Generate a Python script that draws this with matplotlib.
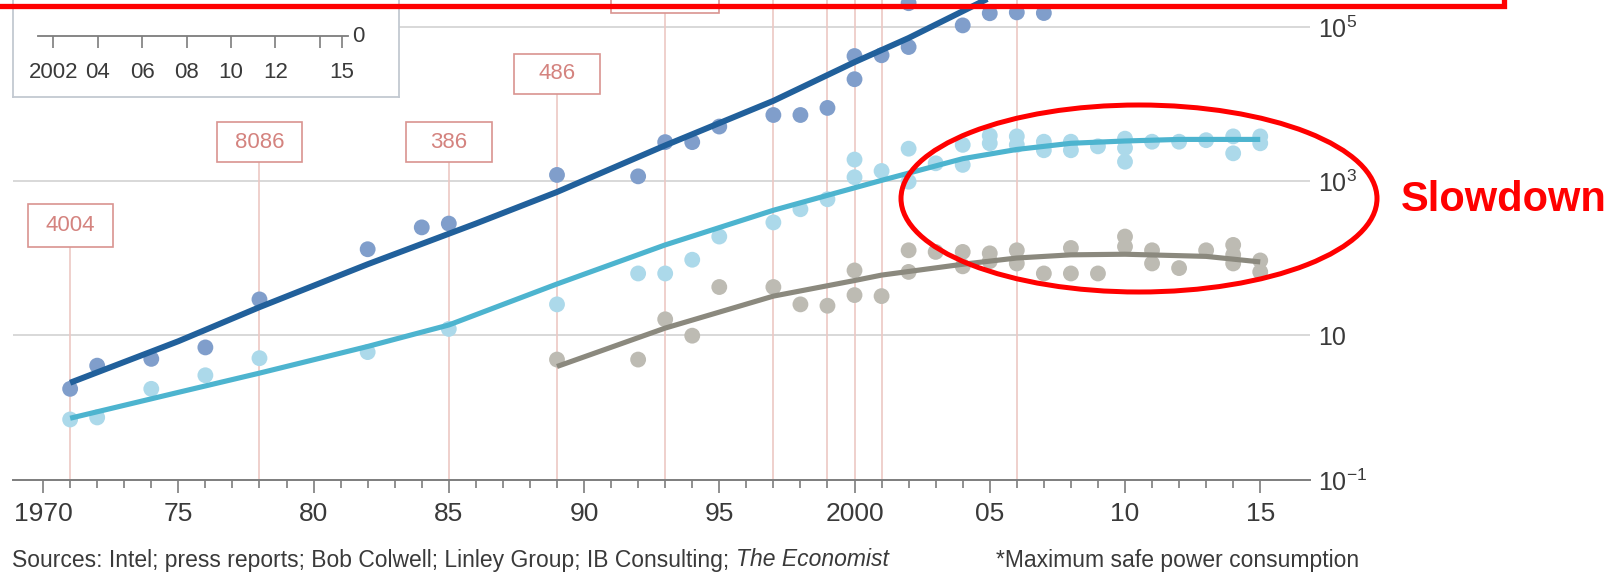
import matplotlib
matplotlib.use('Agg')
import matplotlib.pyplot as plt
import matplotlib.patches as mpatches
import matplotlib.ticker as mticker

# --- data --------------------------------------------------------------
# transistors, thousands (dark blue)
trans_years = [1971, 1972, 1974, 1976, 1978, 1982, 1984, 1985, 1989, 1992,
               1993, 1994, 1995, 1997, 1998, 1999, 2000, 2000, 2001, 2002,
               2002, 2004, 2005, 2006, 2007]
trans_vals = [2.0, 4.0, 4.9, 6.9, 29, 130, 250, 280, 1200, 1150,
              3200, 3200, 5100, 7200, 7200, 8900, 42000, 21000, 43000, 55000,
              204000, 105000, 151000, 155000, 152000]
trans_fit_years = [1971, 1975, 1978, 1982, 1986, 1989, 1993, 1997, 2000, 2002, 2005, 2007]
trans_fit_vals = [2.4, 8.3, 23, 83, 280, 720, 2900, 11000, 35000, 72000, 240000, 480000]

# clock speed, MHz (light blue)
clock_years = [1971, 1972, 1974, 1976, 1978, 1982, 1985, 1989, 1992, 1993,
               1994, 1995, 1997, 1998, 1999, 2000, 2000, 2001, 2002, 2002,
               2003, 2004, 2004, 2005, 2005, 2006, 2006, 2007, 2007, 2008,
               2008, 2009, 2010, 2010, 2010, 2011, 2012, 2013, 2014, 2014,
               2015, 2015]
clock_vals = [0.8, 0.85, 2.0, 3.0, 5.0, 6.0, 12, 25, 63, 63,
              95, 190, 290, 430, 580, 1900, 1120, 1350, 2630, 980,
              1700, 2950, 1620, 3890, 3090, 3800, 2950, 3240, 2510, 3240,
              2510, 2820, 3550, 2690, 1780, 3240, 3240, 3390, 3800, 2290,
              3800, 3090]
clock_fit_years = [1971, 1975, 1978, 1982, 1985, 1989, 1993, 1997, 2001, 2004,
                   2006, 2008, 2010, 2012, 2015]
clock_fit_vals = [0.83, 1.8, 3.2, 7.1, 13.5, 46, 148, 417, 1020, 1950,
                  2570, 3090, 3310, 3470, 3470]

# power, watts (grey)
power_years = [1989, 1992, 1993, 1994, 1995, 1997, 1998, 1999, 2000, 2000,
               2001, 2002, 2002, 2003, 2004, 2004, 2005, 2005, 2006, 2006,
               2007, 2008, 2008, 2009, 2010, 2010, 2011, 2011, 2012, 2013,
               2014, 2014, 2014, 2015, 2015]
power_vals = [4.8, 4.8, 16, 9.8, 42, 42, 25, 24, 69, 33,
              32, 126, 66, 120, 120, 78, 115, 91, 126, 85,
              63, 135, 63, 63, 190, 141, 126, 85, 74, 126,
              148, 110, 85, 93, 66]
power_fit_years = [1989, 1993, 1997, 2000, 2001, 2004, 2006, 2008, 2010, 2013, 2015]
power_fit_vals = [3.9, 12.3, 32, 51, 60, 83, 100, 110, 112, 105, 89]

# chip launches
chip_names = ['4004', '8086', '386', '486', 'Pentium']
chip_years = [1971, 1978, 1985, 1989, 1993]
other_launch_years = [1997, 1999, 2000, 2001, 2006]

x_major = [1970, 1975, 1980, 1985, 1990, 1995, 2000, 2005, 2010, 2015]
x_major_labels = ['1970', '75', '80', '85', '90', '95', '2000', '05', '10', '15']
inset_ticks = [2002, 2004, 2006, 2008, 2010, 2012, 2014, 2015]
inset_labels = ['2002', '04', '06', '08', '10', '12', '', '15']

# --- style --------------------------------------------------------------
plt.rcParams['font.family'] = ['Liberation Sans', 'DejaVu Sans']
plt.rcParams['mathtext.fontset'] = 'custom'
plt.rcParams['mathtext.rm'] = 'Liberation Sans'
plt.rcParams['mathtext.it'] = 'Liberation Sans:italic'

DARK, DARK_DOT = '#21609b', '#809ecb'
LIGHT, LIGHT_DOT = '#4db4cf', '#acd9ea'
GREY, GREY_DOT = '#8b897e', '#bdbbb3'
PINK_LINE, BOX_EDGE, BOX_TEXT = '#ecc8c4', '#d99490', '#d4837f'
TXT = '#3a3a3a'

W, H = 1620, 572
fig = plt.figure(figsize=(W / 100, H / 100), dpi=100)


def fx(px):
    return px / W


def fy(px):
    return 1 - px / H


ax = fig.add_axes([fx(12.8), fy(480), fx(1310) - fx(12.8), 480 / H])
ax.set_yscale('log')
ybot = 10 ** -0.883
ytop = 10 ** 5.351
ax.set_ylim(ybot, ytop)
ax.set_xlim(1968.88, 2016.84)

for s in ['left', 'top', 'right']:
    ax.spines[s].set_visible(False)
ax.spines['bottom'].set_color('#7d7d7d')
ax.spines['bottom'].set_linewidth(1.4)

for v in [10, 1e3, 1e5]:
    ax.axhline(v, color='#d2d2d2', lw=1.2, zorder=0.5)

# launch markers: box bottom / top as log10 of the y value
box_lo = [2.145, 3.245, 3.245, 4.13, 5.18]
box_hi = [2.70, 3.768, 3.768, 4.653, 5.75]
box_hw = [1.57, 1.58, 1.58, 1.58, 2.0]
for name, yr, lo, hi, hw in zip(chip_names, chip_years, box_lo, box_hi, box_hw):
    ax.vlines(yr, ybot, 10 ** lo, color=PINK_LINE, lw=1.2, zorder=1)
    ax.add_patch(mpatches.Rectangle((yr - hw, 10 ** lo), 2 * hw, 10 ** hi - 10 ** lo,
                                    facecolor='white', edgecolor=BOX_EDGE, lw=1.2, zorder=2))
    if 10 ** hi < ytop:
        ax.text(yr, 10 ** ((lo + hi) / 2), name, ha='center', va='center', fontsize=16,
                color=BOX_TEXT, zorder=2.5)
for yr in other_launch_years:
    ax.vlines(yr, ybot, 10 ** 6, color=PINK_LINE, lw=1.2, zorder=1)

# dots and trend lines
ax.scatter(power_years, power_vals, s=130, color=GREY_DOT, edgecolors='none', zorder=3)
ax.scatter(clock_years, clock_vals, s=130, color=LIGHT_DOT, edgecolors='none', zorder=3)
ax.scatter(trans_years, trans_vals, s=130, color=DARK_DOT, edgecolors='none', zorder=3)
ax.plot(power_fit_years, power_fit_vals, color=GREY, lw=3.7, solid_capstyle='butt',
        solid_joinstyle='round', zorder=4)
ax.plot(clock_fit_years, clock_fit_vals, color=LIGHT, lw=3.7, solid_capstyle='butt',
        solid_joinstyle='round', zorder=4)
ax.plot(trans_fit_years, trans_fit_vals, color=DARK, lw=4.3, solid_capstyle='butt',
        solid_joinstyle='round', zorder=4)

# axes ticks
ax.set_xticks(x_major)
ax.set_xticklabels(x_major_labels)
ax.set_xticks(range(1970, 2016), minor=True)
ax.tick_params(axis='x', which='major', length=9, width=1.2, color='#7d7d7d',
               pad=7, labelsize=19, labelcolor=TXT)
ax.tick_params(axis='x', which='minor', length=6, width=1.2, color='#7d7d7d')
ax.yaxis.tick_right()
ax.set_yticks([ybot, 10, 1e3, 1e5])
ax.set_yticklabels(['$10^{-1}$', '10', '$10^{3}$', '$10^{5}$'])
ax.yaxis.set_minor_locator(mticker.NullLocator())
ax.tick_params(axis='y', length=0, pad=6, labelsize=18, labelcolor=TXT)

# inset legend box (top partly cropped)
inset = fig.add_axes([fx(12.7), fy(97), fx(399) - fx(12.7), 0.3])
inset.set_xticks([])
inset.set_yticks([])
inset.set_facecolor('white')
for s in inset.spines.values():
    s.set_color('#c3c9d1')
    s.set_linewidth(1.3)

mini = fig.add_axes([fx(38), fy(36), fx(348) - fx(38), 0.02])
mini.patch.set_visible(False)
for s in ['left', 'top', 'right']:
    mini.spines[s].set_visible(False)
mini.spines['bottom'].set_color('#7d7d7d')
mini.spines['bottom'].set_linewidth(1.3)
mini.set_xlim(2001.31, 2015.27)
mini.set_yticks([])
mini.set_xticks(inset_ticks)
mini.set_xticklabels(inset_labels)
mini.tick_params(axis='x', length=8.5, width=1.2, color='#7d7d7d', pad=10.5,
                 labelsize=16, labelcolor=TXT)
fig.text(fx(352), fy(36), '0', ha='left', va='center', fontsize=16, color=TXT)

# footer
src = fig.text(fx(12), fy(560), 'Sources: Intel; press reports; Bob Colwell; Linley Group; IB Consulting; ',
               ha='left', va='center', fontsize=16.5, color=TXT)
fig.canvas.draw()
bb = src.get_window_extent(fig.canvas.get_renderer())
fig.text(bb.x1 / W, fy(560), 'The Economist', ha='left', va='center', fontsize=16.5,
         color=TXT, style='italic')
fig.text(fx(996), fy(560), '*Maximum safe power consumption', ha='left', va='center',
         fontsize=16.5, color=TXT)

# red highlight overlay
fig.add_artist(mpatches.Rectangle((fx(-20), fy(5.5)), fx(1504 + 20), 0.2,
                                  transform=fig.transFigure, fill=False, ec='#ff0000',
                                  lw=3.8, clip_on=False, zorder=10))
fig.add_artist(mpatches.Ellipse((fx(1139), fy(198.5)), fx(476), 187 / H,
                                transform=fig.transFigure, fill=False, ec='#ff0000',
                                lw=3.6, zorder=10))
fig.text(fx(1401), fy(200), 'Slowdown', ha='left', va='center', fontsize=30,
         fontweight='bold', color='#ff0000')

fig.savefig('out.png', dpi=100)
